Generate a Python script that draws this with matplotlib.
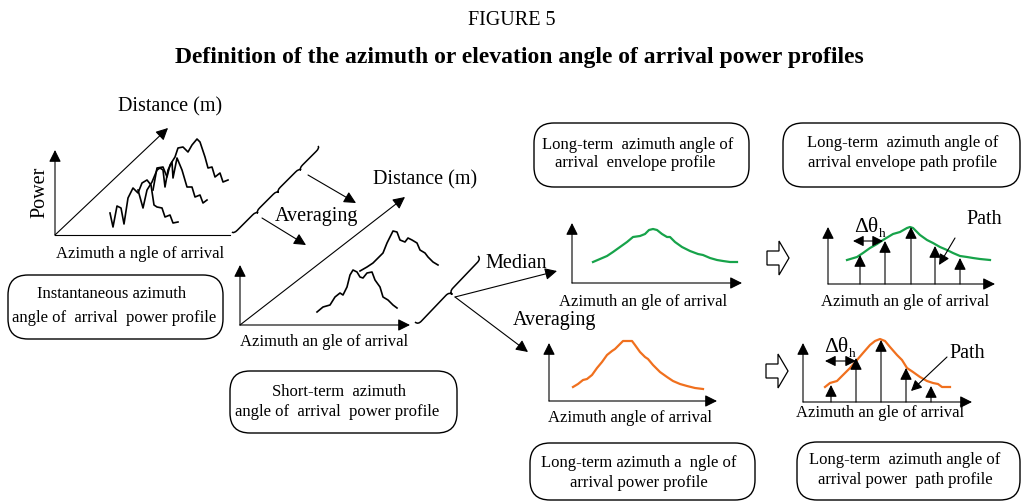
import matplotlib
matplotlib.use('Agg')
import matplotlib.pyplot as plt
import numpy as np
from matplotlib.patches import FancyBboxPatch, Polygon, PathPatch
from matplotlib.path import Path

plt.rcParams['font.family'] = ['Liberation Serif', 'DejaVu Serif']

# ---------------------------------------------------------------------------
# Curve data: (azimuth, power), in px from each panel origin
# ---------------------------------------------------------------------------

# instantaneous profiles (three snapshots along distance)
inst_az_1 = [55, 58, 62, 66, 69, 73, 78, 83, 87, 92, 96, 99, 102, 107, 110, 115, 118, 123]
inst_pw_1 = [22, 8, 29, 27, 11, 37, 47, 42, 52, 55, 50, 30, 28, 27, 18, 20, 12, 13]
inst_az_2 = [83, 88, 92, 97, 102, 105, 108, 110, 113, 117, 118, 122, 127, 132, 137, 140, 145, 148, 152]
inst_pw_2 = [45, 27, 45, 53, 65, 67, 65, 48, 65, 73, 57, 77, 65, 48, 48, 38, 40, 32, 35]
inst_az_3 = [98, 102, 108, 112, 115, 120, 123, 128, 133, 137, 142, 145, 150, 153, 157, 160, 165, 168, 173]
inst_pw_3 = [45, 67, 68, 58, 70, 78, 87, 88, 83, 90, 96, 93, 78, 67, 68, 58, 62, 53, 55]

# short-term profiles
short_az_1 = [77, 83, 90, 95, 100, 103, 107, 110, 113, 117, 120, 123, 127, 132, 135, 140, 143, 148, 153, 157]
short_pw_1 = [13, 18, 20, 28, 32, 30, 38, 50, 55, 53, 48, 47, 52, 53, 45, 38, 28, 25, 20, 17]
short_az_2 = [120, 127, 133, 138, 143, 147, 150, 153, 157, 160, 165, 168, 172, 177, 180, 185, 188, 193, 198]
short_pw_2 = [54, 58, 62, 67, 72, 82, 88, 94, 93, 85, 83, 87, 85, 82, 75, 72, 68, 63, 60]

# long-term envelope (median)
env_az = [21, 28, 35, 41, 48, 55, 61, 68, 73, 77, 81, 85, 90, 95, 98, 103, 110, 118, 126, 131, 138, 145, 151, 158, 165]
env_pw = [21, 24, 27, 31, 36, 41, 46, 47, 49, 53, 54, 53, 49, 46, 46, 41, 36, 32, 29, 28, 25, 23, 22, 21, 21]

# long-term envelope with paths
envp_az = [19, 29, 35, 42, 49, 55, 60, 65, 72, 79, 82, 85, 92, 99, 105, 112, 119, 125, 132, 139, 145, 152, 162]
envp_pw = [24, 27, 31, 36, 40, 44, 47, 50, 52, 56, 57, 56, 49, 44, 41, 37, 34, 31, 28, 27, 26, 25, 24]
env_path_az = [32, 57, 83, 107, 132]
env_path_pw = [29, 43, 57, 38, 26]

# long-term power profile (averaging)
pow_az = [24, 29, 34, 38, 43, 48, 53, 58, 63, 66, 69, 74, 83, 86, 91, 96, 99, 104, 111, 118, 124, 131, 138, 146, 154]
pow_pw = [14, 17, 21, 22, 26, 33, 39, 46, 50, 52, 55, 60, 60, 56, 49, 44, 42, 36, 29, 24, 20, 17, 15, 13, 12]

# long-term power profile with paths
powp_az = [22, 27, 34, 40, 47, 54, 60, 67, 72, 77, 82, 87, 94, 99, 104, 110, 117, 124, 130, 135, 139, 147]
powp_pw = [15, 19, 21, 27, 34, 42, 49, 57, 61, 63, 61, 55, 47, 42, 34, 30, 25, 21, 19, 18, 15, 15]
pow_path_az = [28, 53, 78, 103, 128]
pow_path_pw = [17, 44, 62, 34, 16]

GREEN = '#17a34a'
ORANGE = '#f0701e'

# ---------------------------------------------------------------------------
# Helpers
# ---------------------------------------------------------------------------

fig = plt.figure(figsize=(10.22, 5.03), dpi=100)
ax = fig.add_axes([0, 0, 1, 1])
ax.set_xlim(0, 1022)
ax.set_ylim(503, 0)
ax.axis('off')


def loc(origin, az, pw):
    return origin[0] + np.asarray(az, float), origin[1] - np.asarray(pw, float)


def arrow(p0, p1, lw=0.8, style='-|>', ms=18):
    ax.annotate('', xy=p1, xytext=p0,
                arrowprops=dict(arrowstyle=style, color='k', lw=lw,
                                shrinkA=0, shrinkB=0, mutation_scale=ms))


def axes_arrows(origin, xlen, ylen, xhead=True):
    ox, oy = origin
    arrow((ox, oy), (ox, oy - ylen))
    if xhead:
        arrow((ox, oy), (ox + xlen, oy))
    else:
        ax.plot([ox, ox + xlen], [oy, oy], color='k', lw=0.8)


def brace(p0, p1, tips, w, side=1, lw=1.1):
    p0, p1 = np.array(p0, float), np.array(p1, float)
    d = p1 - p0
    L = np.hypot(*d)
    u = d / L
    n = np.array([-u[1], u[0]]) * side
    anchors = [(0, 0)] + [(t * L, w) for t in tips] + [(L, 0)]
    verts = [(0, 0)]
    codes = [Path.MOVETO]
    for (a, va), (b, vb) in zip(anchors[:-1], anchors[1:]):
        q = min(5, (b - a) / 3)
        verts += [(a, w / 2), (a + q, w / 2), (b - q, w / 2), (b, w / 2), (b, vb)]
        codes += [Path.CURVE3, Path.CURVE3, Path.LINETO, Path.CURVE3, Path.CURVE3]
    pts = [p0 + s * u + v * n for s, v in verts]
    ax.add_patch(PathPatch(Path(pts, codes), fc='none', ec='k', lw=lw))


def rbox(x0, y0, x1, y1, lines, fs=12):
    ax.add_patch(FancyBboxPatch((x0, y0), x1 - x0, y1 - y0,
                                boxstyle='round,pad=0,rounding_size=20',
                                fc='white', ec='k', lw=1.0))
    for text, tx, ty in lines:
        ax.text(tx, ty, text, ha='center', va='center', fontsize=fs)


def hollow_arrow(cx, cy):
    shape = np.array([[-11, -7], [1, -7], [1, -17], [11, 0],
                      [1, 17], [1, 7], [-11, 7]], float)
    ax.add_patch(Polygon(shape + [cx, cy], closed=True, fc='white',
                         ec='k', lw=0.9))


def delta_theta(x, y):
    ax.text(x, y, 'Δθ', ha='center', va='center', fontsize=15.5)
    ax.text(x + 16, y + 7, 'h', ha='center', va='center', fontsize=9.5)


# ---------------------------------------------------------------------------
# Titles
# ---------------------------------------------------------------------------

ax.text(512, 20, 'FIGURE 5', ha='center', va='center', fontsize=14.5)
ax.text(519, 57, 'Definition of the azimuth or elevation angle of arrival power profiles',
        ha='center', va='center', fontsize=17, fontweight='bold')

# ---------------------------------------------------------------------------
# Panel 1 : instantaneous profiles
# ---------------------------------------------------------------------------

o1 = (55, 235)
axes_arrows(o1, 175, 85, xhead=False)
arrow(o1, (o1[0] + 113, o1[1] - 107))
for az, pw in [(inst_az_1, inst_pw_1), (inst_az_2, inst_pw_2), (inst_az_3, inst_pw_3)]:
    ax.plot(*loc(o1, az, pw), color='k', lw=1.2)
ax.text(40, 192, 'Power', rotation=90, ha='center', va='center', fontsize=14.5)
ax.text(170, 107, 'Distance (m)', ha='center', va='center', fontsize=14.5)
ax.text(140, 254, 'Azimuth a ngle of arrival', ha='center', va='center', fontsize=12)
rbox(8, 275, 223, 339, [('Instantaneous azimuth', 112, 294),
                        ('angle of  arrival  power profile', 114, 318)])

# brace + averaging
brace((232, 232), (318, 146), [0.26, 0.5, 0.76], 5)
arrow((308, 175), (356, 203))
arrow((262, 218), (306, 245))
ax.text(316, 216, 'Averaging', ha='center', va='center', fontsize=14.5)

# ---------------------------------------------------------------------------
# Panel 2 : short-term profiles
# ---------------------------------------------------------------------------

o2 = (240, 325)
axes_arrows(o2, 170, 60)
arrow(o2, (o2[0] + 165, o2[1] - 128))
for az, pw in [(short_az_1, short_pw_1), (short_az_2, short_pw_2)]:
    ax.plot(*loc(o2, az, pw), color='k', lw=1.2)
ax.text(425, 180, 'Distance (m)', ha='center', va='center', fontsize=14.5)
ax.text(324, 342, 'Azimuth an gle of arrival', ha='center', va='center', fontsize=12)
rbox(230, 371, 457, 433, [('Short-term  azimuth', 339, 392),
                          ('angle of  arrival  power profile', 337, 412)])

brace((415, 322), (478, 256), [0.5], 8)
arrow((455, 297), (557, 271))
arrow((455, 297), (528, 352))
ax.text(516, 263, 'Median', ha='center', va='center', fontsize=14.5)
ax.text(554, 320, 'Averaging', ha='center', va='center', fontsize=14.5)

# ---------------------------------------------------------------------------
# Panel 3 / 4 : long-term envelope
# ---------------------------------------------------------------------------

o3 = (572, 283)
axes_arrows(o3, 170, 60)
ax.plot(*loc(o3, env_az, env_pw), color=GREEN, lw=1.6)
ax.text(643, 302, 'Azimuth an gle of arrival', ha='center', va='center', fontsize=12)
rbox(534, 123, 749, 187, [('Long-term  azimuth angle of', 638, 145),
                          ('arrival  envelope profile', 635, 163)])

hollow_arrow(778, 258)

o4 = (828, 284)
axes_arrows(o4, 167, 57)
ax.plot(*loc(o4, envp_az, envp_pw), color=GREEN, lw=1.6)
for x, y in zip(*loc(o4, env_path_az, env_path_pw)):
    arrow((x, o4[1]), (x, y))
arrow((o4[0] + 25, o4[1] - 43), (o4[0] + 55, o4[1] - 43), style='<|-|>', ms=16)
delta_theta(866, 227)
ax.text(984, 219, 'Path', ha='center', va='center', fontsize=14.5)
arrow((955, 238), (939, 265), ms=16)
ax.text(905, 302, 'Azimuth an gle of arrival', ha='center', va='center', fontsize=12)
rbox(783, 123, 1020, 187, [('Long-term  azimuth angle of', 903, 143),
                           ('arrival envelope path profile', 903, 163)])

# ---------------------------------------------------------------------------
# Panel 5 / 6 : long-term power
# ---------------------------------------------------------------------------

o5 = (549, 401)
axes_arrows(o5, 168, 58)
ax.plot(*loc(o5, pow_az, pow_pw), color=ORANGE, lw=1.6)
ax.text(630, 418, 'Azimuth angle of arrival', ha='center', va='center', fontsize=12)
rbox(530, 443, 755, 500, [('Long-term azimuth a  ngle of', 639, 463),
                          ('arrival power profile', 639, 483)])

hollow_arrow(777, 371)

o6 = (803, 402)
axes_arrows(o6, 169, 59)
ax.plot(*loc(o6, powp_az, powp_pw), color=ORANGE, lw=1.6)
for x, y in zip(*loc(o6, pow_path_az, pow_path_pw)):
    arrow((x, o6[1]), (x, y))
arrow((o6[0] + 22, o6[1] - 41), (o6[0] + 53, o6[1] - 41), style='<|-|>', ms=16)
delta_theta(836, 347)
ax.text(967, 353, 'Path', ha='center', va='center', fontsize=14.5)
arrow((947, 357), (911, 391), ms=16)
ax.text(880, 413, 'Azimuth an gle of arrival', ha='center', va='center', fontsize=12)
rbox(797, 442, 1020, 500, [('Long-term  azimuth angle of', 905, 460),
                           ('arrival power  path profile', 905, 480)])

fig.savefig('out.png', dpi=100)
